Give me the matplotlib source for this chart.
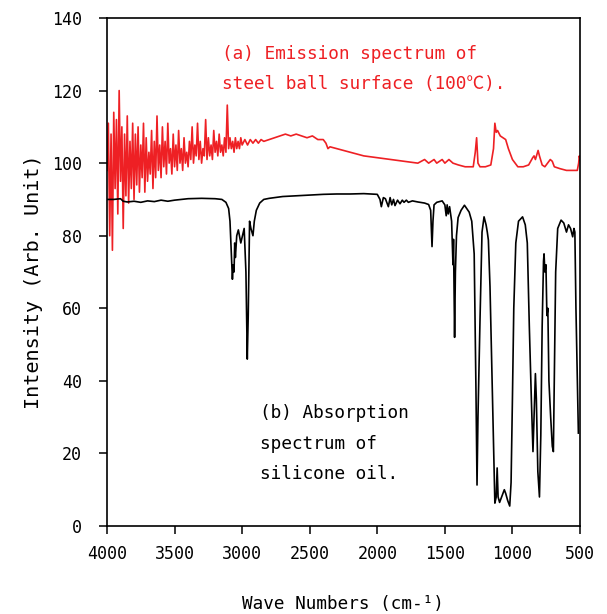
import numpy as np
import matplotlib
matplotlib.use("Agg")
import matplotlib.pyplot as plt

# (a) emission spectrum of steel ball surface
red_wn = [4000, 3990, 3980, 3970, 3960, 3950, 3940, 3930, 3920, 3910, 3900,
          3890, 3880, 3870, 3860, 3850, 3840, 3830, 3820, 3810, 3800,
          3790, 3780, 3770, 3760, 3750, 3740, 3730, 3720, 3710, 3700,
          3690, 3680, 3670, 3660, 3650, 3640, 3630, 3620, 3610, 3600,
          3590, 3580, 3570, 3560, 3550, 3540, 3530, 3520, 3510, 3500,
          3490, 3480, 3470, 3460, 3450, 3440, 3430, 3420, 3410, 3400,
          3390, 3380, 3370, 3360, 3350, 3340, 3330, 3320, 3310, 3300,
          3290, 3280, 3270, 3260, 3250, 3240, 3230, 3220, 3210, 3200,
          3190, 3180, 3170, 3160, 3150, 3140, 3130, 3120, 3110, 3100,
          3090, 3080, 3070, 3060, 3050, 3040, 3030, 3020, 3010, 3000,
          2980, 2960, 2940, 2920, 2900, 2880, 2860, 2840, 2800, 2760,
          2720, 2680, 2640, 2600, 2560, 2520, 2480, 2440, 2400, 2380,
          2365, 2350, 2300, 2200, 2100, 2000, 1900, 1800, 1700, 1650,
          1620, 1580, 1560, 1520, 1500, 1470, 1440, 1400, 1350, 1290,
          1275, 1265, 1255, 1240, 1200, 1160, 1140, 1130, 1120, 1110,
          1090, 1070, 1050, 1030, 1000, 960, 920, 880, 850, 840,
          830, 810, 800, 780, 760, 720, 705, 690, 650, 600,
          550, 520, 510, 505, 500]
red_int = [98, 111, 80, 108, 76, 114, 93, 112, 86, 120, 95,
           110, 82, 108, 91, 113, 89, 106, 93, 111, 90,
           108, 94, 110, 92, 105, 96, 111, 92, 107, 95,
           103, 97, 109, 93, 106, 96, 113, 98, 105, 96,
           110, 99, 106, 97, 111, 100, 104, 97, 108, 99,
           105, 98, 109, 100, 104, 98, 107, 100, 103, 99,
           106, 101, 110, 100, 105, 102, 111, 101, 106, 100,
           104, 102, 112, 101, 107, 102, 105, 101, 109, 103,
           106, 102, 108, 103, 105, 102, 107, 103, 116, 104,
           107, 104, 106, 103, 107, 104, 106, 104, 107, 105,
           106.5, 105, 106.5, 105.5, 106.5, 105.5, 106.5, 106, 106.5, 107,
           107.5, 108, 107.5, 108, 107.5, 107, 107.5, 106.5, 106.5, 105.5,
           104, 104.5, 104, 103, 102, 101.5, 101, 100.5, 100, 101,
           100, 101, 100, 101, 100, 101, 100, 99.5, 99, 99,
           103, 107, 100, 99, 99, 99.5, 104, 111, 108.5, 109,
           107.5, 107, 106.5, 104, 101, 99, 99, 99.5, 101.5, 102,
           101, 103.5, 102, 99.5, 99, 101, 100.5, 99, 98.5, 98,
           98, 98, 100, 102, 101]

# (b) absorption spectrum of silicone oil
blk_wn = [4000, 3950, 3900, 3880, 3850, 3800, 3750, 3700, 3650, 3600,
          3550, 3500, 3400, 3300, 3200, 3150, 3120, 3100, 3090, 3080,
          3072, 3066, 3060, 3055, 3050, 3040, 3028, 3010, 2985, 2972,
          2962, 2955, 2945, 2935, 2920, 2910, 2895, 2870, 2840, 2800,
          2700, 2600, 2500, 2400, 2300, 2200, 2100, 2050, 2000, 1980,
          1970, 1955, 1940, 1918, 1905, 1893, 1880, 1869, 1850, 1832,
          1815, 1802, 1785, 1770, 1740, 1700, 1650, 1620, 1605, 1595,
          1588, 1580, 1560, 1520, 1500, 1490, 1483, 1475, 1465, 1450,
          1440, 1436, 1428, 1422, 1414, 1402, 1380, 1355, 1320, 1301,
          1283, 1270, 1262, 1255, 1240, 1225, 1210, 1195, 1186, 1178,
          1166, 1150, 1140, 1130, 1120, 1113, 1106, 1095, 1080, 1060,
          1050, 1035, 1020, 1010, 1000, 990, 975, 955, 925, 905,
          890, 875, 860, 848, 840, 830, 823, 812, 800, 790,
          780, 770, 766, 760, 752, 745, 738, 730, 717, 705,
          697, 690, 680, 665, 640, 620, 600, 585, 570, 554,
          545, 538, 530, 520, 512]
blk_int = [90, 90, 90.2, 89.5, 89.3, 89.5, 89.2, 89.6, 89.4, 89.8,
           89.5, 89.8, 90.2, 90.3, 90.2, 90, 89.2, 87.5, 84, 75,
           68, 72, 70, 78, 74, 80, 81.6, 78, 82, 70,
           46, 58, 84, 82, 80, 84, 87, 89, 90, 90.3,
           90.8, 91, 91.2, 91.4, 91.5, 91.5, 91.6, 91.5, 91.4, 90,
           88, 90.5, 90.2, 88, 90.5, 88.5, 90, 88.3, 89.8, 88.8,
           89.8, 89.2, 89.8, 89.2, 89.6, 89.3, 89, 88.6, 87, 77,
           84, 88.5, 89.2, 89.6, 88.5, 85.5, 88.5, 86, 88, 84,
           72, 79, 52, 70, 80, 85, 87, 88.4, 86.5, 84,
           75, 38, 11.3, 30, 56.7, 81, 85.2, 83, 81, 78.8,
           66, 40, 25, 6.3, 8, 16, 8, 6.5, 8, 10,
           9, 7, 5.5, 12, 35, 60, 78, 84, 85.2, 83,
           78, 55, 35, 20.5, 30, 42, 35, 15, 8, 25,
           55, 73, 75, 70, 72, 58, 60, 40, 30, 22,
           20.5, 40, 70, 82, 84.3, 83.5, 81, 83, 82, 79.7,
           82, 81, 60, 40, 25.6]

fig = plt.figure(figsize=(6.07, 6.14), dpi=100)
ax = fig.add_axes([107 / 607, 1 - 526 / 614, 473 / 607, 508 / 614])

ax.plot(red_wn, red_int, color="#ee2024", lw=1.2)
ax.plot(blk_wn, blk_int, color="black", lw=1.2)

ax.set_xlim(4000, 500)
ax.set_ylim(0, 140)
ax.set_xticks(np.arange(4000, 499, -500))
ax.set_yticks(np.arange(0, 141, 20))

mono = ["DejaVu Sans Mono", "Noto Sans CJK JP"]
for lab in ax.get_xticklabels() + ax.get_yticklabels():
    lab.set_family(mono)
    lab.set_fontsize(12)
ax.tick_params(axis="x", direction="out", length=6, width=1.1, pad=8)
ax.tick_params(axis="y", direction="out", length=6, width=1.1, pad=12)
for sp in ax.spines.values():
    sp.set_linewidth(1.2)

ax.set_xlabel("Wave Numbers (cm-¹)", family=mono, fontsize=12.7)
ax.set_ylabel("Intensity (Arb. Unit)", family=mono, fontsize=14.5)
ax.xaxis.set_label_coords(0.499, -0.136)
ax.yaxis.set_label_coords(-0.135, 0.48)

red_txt = "#ee2024"
ax.text(3149, 128.6, "(a) Emission spectrum of", color=red_txt,
        family=mono, fontsize=12.8, va="baseline")
ax.text(3149, 120.4, "steel ball surface (100℃).", color=red_txt,
        family=mono, fontsize=12.8, va="baseline")
ax.text(2868, 29.9, "(b) Absorption", family=mono, fontsize=12.8, va="baseline")
ax.text(2868, 21.3, "spectrum of", family=mono, fontsize=12.8, va="baseline")
ax.text(2868, 12.9, "silicone oil.", family=mono, fontsize=12.8, va="baseline")

fig.savefig("out.png", dpi=100)
